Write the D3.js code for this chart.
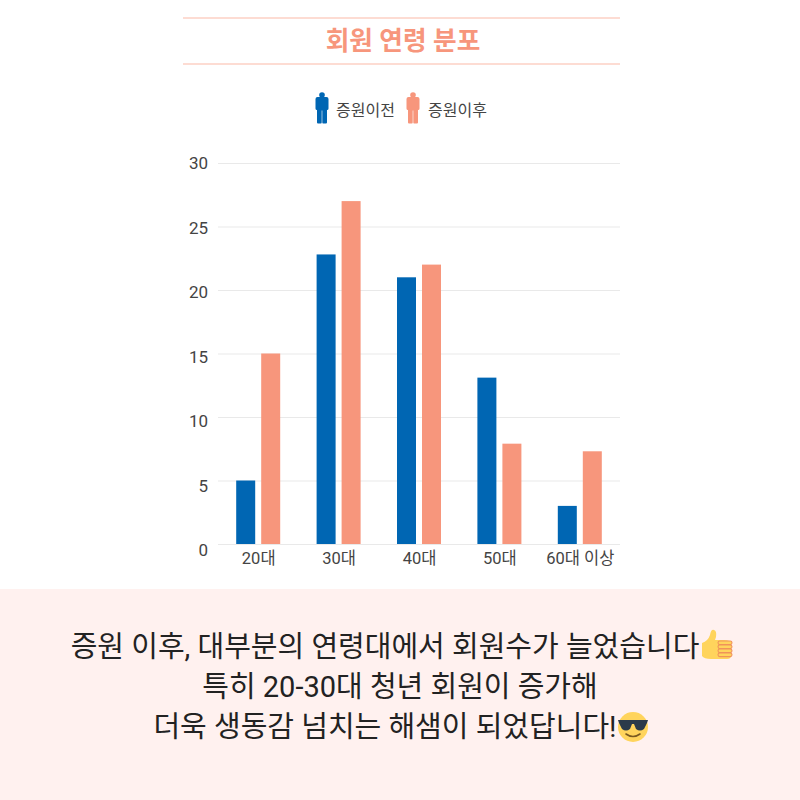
<!DOCTYPE html>
<html>
<head>
<meta charset="utf-8">
<script src="https://cdn.jsdelivr.net/npm/d3@7"></script>
<style>
  html, body { margin: 0; padding: 0; background: #fff; }
  svg { display: block; }
  text { font-family: Roboto, "Noto Sans CJK KR", sans-serif; }
</style>
</head>
<body>
<svg id="chart" width="800" height="800"></svg>
<script>
var categories = ['20대', '30대', '40대', '50대', '60대 이상'];
var seriesNames = ['증원이전', '증원이후'];
var before = [5, 22.8, 21, 13.1, 3];
var after = [15, 27, 22, 7.9, 7.3];
var yTicks = [0, 5, 10, 15, 20, 25, 30];
var noteLines = ['증원 이후, 대부분의 연령대에서 회원수가 늘었습니다', '특히 20-30대 청년 회원이 증가해', '더욱 생동감 넘치는 해샘이 되었답니다!'];

var colors = ['#0066b3', '#f7967c'];
var svg = d3.select('#chart');

// title between two rules
svg.selectAll('line.rule')
    .data([18, 64])
    .join('line')
    .attr('class', 'rule')
    .attr('x1', 183).attr('x2', 620)
    .attr('y1', function(d) { return d; })
    .attr('y2', function(d) { return d; })
    .attr('stroke', '#fdd0c4')
    .attr('stroke-width', 1.5);

svg.append('text')
    .attr('x', 403).attr('y', 49.5)
    .attr('text-anchor', 'middle')
    .attr('fill', '#f7967c')
    .style('font-size', '25.7px')
    .style('font-weight', 700)
    .text('회원 연령 분포');

// scales
var x = d3.scaleBand().domain(categories).range([218, 620]);
var inner = d3.scaleBand().domain([0, 1]).range([-22, 22]).paddingInner(0.24);
var y = d3.scaleLinear().domain([0, 30]).range([544, 163]);
// tick labels in the picture drift slightly from the gridlines
var yLabel = d3.scaleLinear().domain([0, 30]).range([550, 163]);

svg.append('g')
    .attr('transform', 'translate(218,0)')
    .call(d3.axisLeft(y).tickValues(yTicks).tickSize(-402).tickPadding(10))
    .call(function(g) {
      g.select('.domain').remove();
      g.selectAll('.tick line').attr('stroke', '#e9e9e9').attr('stroke-width', 1.2);
      g.selectAll('.tick text')
          .attr('fill', '#444')
          .style('font-size', '17px')
          .attr('dy', function(d) { return yLabel(d) - y(d) + 5.8; });
    });

svg.append('g')
    .attr('transform', 'translate(0.5,544)')
    .call(d3.axisBottom(x).tickSize(0).tickPadding(8))
    .call(function(g) {
      g.select('.domain').remove();
      g.selectAll('.tick text')
          .attr('fill', '#444')
          .style('font-size', '16.5px');
    });

// bars
[before, after].forEach(function(values, s) {
  svg.append('g')
      .selectAll('rect')
      .data(values)
      .join('rect')
      .attr('x', function(d, i) { return x(categories[i]) + x.bandwidth() / 2 + inner(s); })
      .attr('y', function(d) { return y(d); })
      .attr('width', inner.bandwidth())
      .attr('height', function(d) { return y(0) - y(d); })
      .attr('fill', colors[s]);
});

// legend with person icons
var personPath = 'M-4.5,-10.5 Q-6.5,-10.5 -6.5,-8.5 L-6.5,1 Q-6.5,2.5 -5,2.5 L-5,15 Q-5,16 -4,16 L-1,16 Q-0.3,16 -0.3,15 L-0.3,3 L0.3,3 L0.3,15 Q0.3,16 1,16 L4,16 Q5,16 5,15 L5,2.5 Q6.5,2.5 6.5,1 L6.5,-8.5 Q6.5,-10.5 4.5,-10.5 Z';
[{ x: 322, tx: 336 }, { x: 413, tx: 428 }].forEach(function(p, s) {
  var g = svg.append('g').attr('transform', 'translate(' + p.x + ',107.5)');
  g.append('circle').attr('cy', -12.5).attr('r', 2.8).attr('fill', colors[s]);
  g.append('path').attr('d', personPath).attr('fill', colors[s]);
  svg.append('text')
      .attr('x', p.tx).attr('y', 115.5)
      .attr('fill', '#444')
      .style('font-size', '16px')
      .text(seriesNames[s]);
});

// bottom note
svg.append('rect')
    .attr('x', 0).attr('y', 589)
    .attr('width', 800).attr('height', 211)
    .attr('fill', '#fff1ef');

svg.selectAll('text.note')
    .data(noteLines)
    .join('text')
    .attr('class', 'note')
    .attr('x', function(d, i) { return i === 1 ? 400 : 385; })
    .attr('y', function(d, i) { return 657 + i * 40; })
    .attr('text-anchor', 'middle')
    .attr('fill', '#222')
    .style('font-size', '29px')
    .style('font-weight', 400)
    .text(function(d) { return d; });

// thumbs up
var thumb = svg.append('g').attr('transform', 'translate(701,629)');
thumb.append('path')
    .attr('d', 'M1,14 Q7,12 9,6 Q10,0 13,1 Q16,2 15,8 L14,11 L23,11 Q30,11 30,15 L30,27 Q30,30 26,30 L10,30 Q3,30 1,27 Z')
    .attr('fill', '#ffd45c');
thumb.selectAll('rect')
    .data([12, 16, 20, 24])
    .join('rect')
    .attr('x', 17).attr('y', function(d) { return d; })
    .attr('width', 14).attr('height', 3.6).attr('rx', 1.8)
    .attr('fill', '#ffd45c').attr('stroke', '#f0935a').attr('stroke-width', 1.1);

// sunglasses face
var face = svg.append('g').attr('transform', 'translate(633,727)');
face.append('circle').attr('r', 15).attr('fill', '#ffd45c');
face.append('path')
    .attr('d', 'M-15,-7 L15,-7 L14,-4 L11,2 Q7,5 3,2 L1,-3 L-1,-3 L-3,2 Q-7,5 -11,2 L-14,-4 Z')
    .attr('fill', '#2b3a4a');
face.append('path')
    .attr('d', 'M-7,7 Q0,12 7,7')
    .attr('fill', 'none').attr('stroke', '#7a5a20').attr('stroke-width', 1.6).attr('stroke-linecap', 'round');
</script>
</body>
</html>
